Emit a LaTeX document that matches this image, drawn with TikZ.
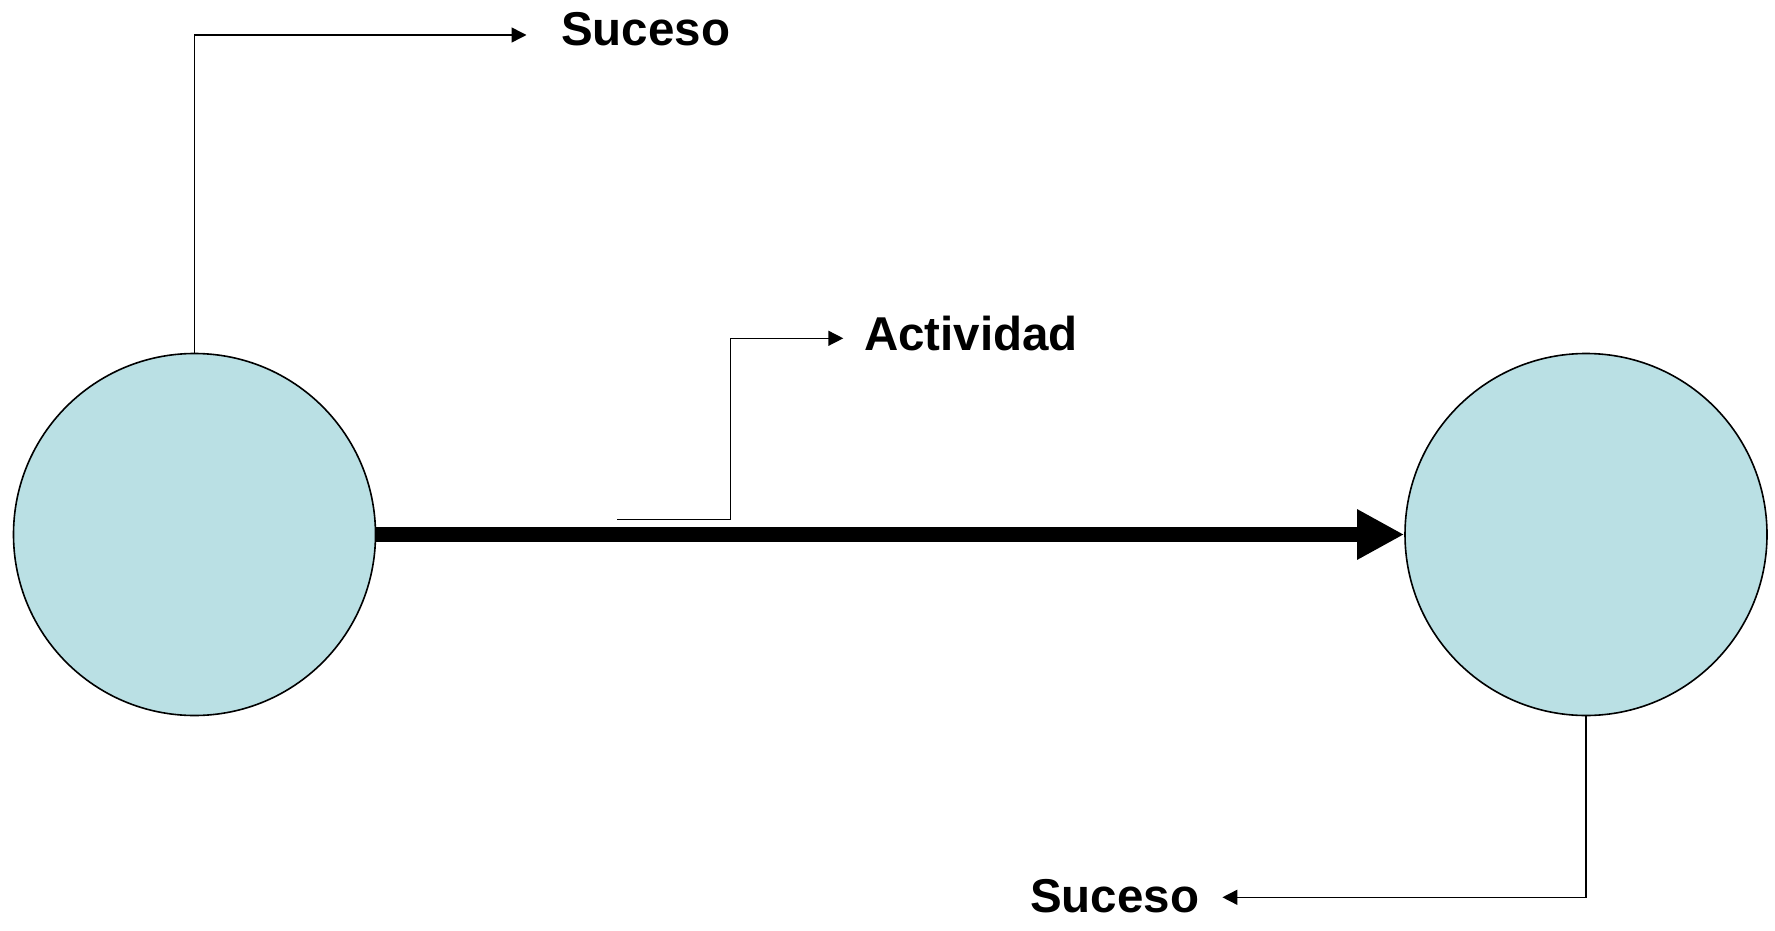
\documentclass[tikz,border=0pt]{standalone}
\usepackage{fontspec}
\setmainfont{Liberation Sans}
\usetikzlibrary{arrows.meta}
\definecolor{nodefill}{RGB}{186,224,228}
\begin{document}
\begin{tikzpicture}[x=1pt,y=-1pt,
  eventnode/.style={circle,draw=black,line width=1.6pt,fill=nodefill,minimum size=362pt,inner sep=0pt},
  lbl/.style={anchor=base west,inner sep=0pt,font=\fontsize{47.5}{57}\selectfont\bfseries},
  callout/.style={line width=1.5pt,-{Triangle[length=15pt,width=15pt]}},
  activity/.style={line width=15.6pt,-{Triangle[length=47pt,width=47pt]}}]
\useasboundingbox (0,0) rectangle (1775,931);
\node[eventnode] (A) at (194.5,534.5) {};
\node[eventnode] (B) at (1586,534.5) {};
\node[lbl] (s1) at (561,45.7) {Suceso};
\node[lbl] (act) at (864,350) {Actividad};
\node[lbl] (s2) at (1030,912) {Suceso};
\coordinate (t1) at (526.5,35);
\coordinate (t2) at (843.3,338.3);
\coordinate (t3) at (1222.4,897.3);
\coordinate (a0) at (617,519.3);
\coordinate (ac) at (730.7,519.3);
\draw[activity] (A.east) -- (B.west);
\draw[callout] (A.north) |- (t1);
\draw[callout] (a0) -- (ac) |- (t2);
\draw[callout] (B.south) |- (t3);
\end{tikzpicture}
\end{document}
